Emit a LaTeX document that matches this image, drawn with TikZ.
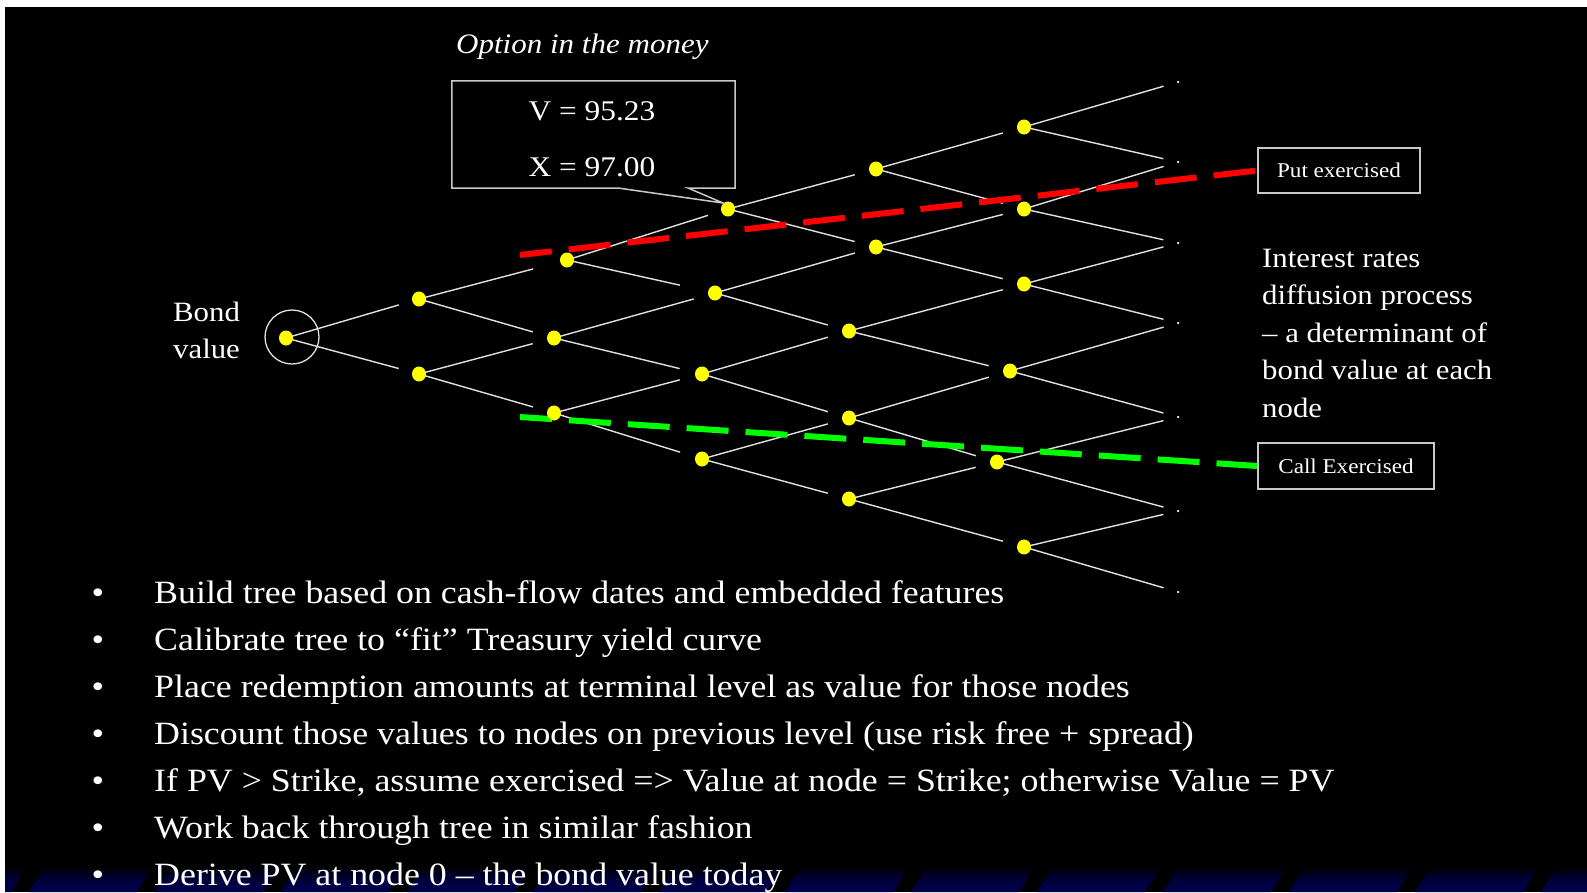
\documentclass[tikz,border=0pt]{standalone}
\usepackage{fontspec}
\usetikzlibrary{shapes.geometric}
\setmainfont{Liberation Serif}[FakeStretch=1.1]
\newfontfamily\bulletfont{Liberation Serif}[FakeStretch=1.103]
\definecolor{treeline}{RGB}{225,225,225}
\definecolor{dotyellow}{RGB}{255,255,0}
\definecolor{navyband}{RGB}{0,0,80}
\definecolor{boxline}{RGB}{200,200,200}
\definecolor{putred}{RGB}{255,0,0}
\definecolor{callgreen}{RGB}{0,255,0}
\begin{document}
\begin{tikzpicture}[x=1pt,y=-1pt,
  dot/.style={ellipse,fill=dotyellow,inner sep=0pt,minimum width=14pt,minimum height=15pt},
  tdot/.style={circle,fill=white,inner sep=0pt,minimum size=2.5pt},
  tline/.style={draw=treeline,line width=1.4pt},
  exline/.style={line width=6pt,dash pattern=on 42pt off 17pt,dash phase=10pt},
  lbox/.style={draw=boxline,line width=1.6pt,fill=black,text=white,inner sep=0pt,font=\fontsize{21}{24}\selectfont},
  wtext/.style={text=white,inner sep=0pt,anchor=base west},
  bul/.style={text=white,inner sep=0pt,anchor=base,font=\bulletfont\fontsize{32.5}{36}\selectfont},
  btext/.style={text=white,inner sep=0pt,anchor=base west,font=\bulletfont\fontsize{32.5}{36}\selectfont},
  rtext/.style={text=white,inner sep=0pt,anchor=base west,font=\fontsize{28}{32}\selectfont},
]
\useasboundingbox (0,0) rectangle (1587,892);
\fill[white] (0,0) rectangle (1587,892);
\fill[black] (5,7) rectangle (1587,892);
% bottom band
\begin{scope}
\clip (5,7) rectangle (1587,892);
\foreach \k in {-1,...,12} {
  \shade[top color=black,bottom color=navyband,middle color=navyband!70!black]
    ({45+126*\k},866) -- ({153+126*\k},866) -- ({137+126*\k},892) -- ({29+126*\k},892) -- cycle;
}
\end{scope}

% tree coordinates
\coordinate (n00) at (286,338);
\coordinate (n10) at (419,299);
\coordinate (n11) at (419,374);
\coordinate (n20) at (567,260);
\coordinate (n21) at (554,338);
\coordinate (n22) at (554,413);
\coordinate (n30) at (728,209);
\coordinate (n31) at (715,293);
\coordinate (n32) at (702,374);
\coordinate (n33) at (702,459);
\coordinate (n40) at (876,169);
\coordinate (n41) at (876,247);
\coordinate (n42) at (849,331);
\coordinate (n43) at (849,418);
\coordinate (n44) at (849,499);
\coordinate (n50) at (1024,127);
\coordinate (n51) at (1024,209);
\coordinate (n52) at (1024,284);
\coordinate (n53) at (1010,371);
\coordinate (n54) at (997,462);
\coordinate (n55) at (1024,547);
\coordinate (t0) at (1178,82);
\coordinate (t1) at (1178,162);
\coordinate (t2) at (1178,243);
\coordinate (t3) at (1178,323);
\coordinate (t4) at (1178,417);
\coordinate (t5) at (1178,511);
\coordinate (t6) at (1178,592);

% tree lines
\foreach \a/\b/\s in {n00/n10/21, n00/n11/21,
  n10/n20/35, n10/n21/22, n11/n21/22, n11/n22/22,
  n20/n30/21, n20/n31/36, n21/n31/22, n21/n32/23, n22/n32/23, n22/n33/23,
  n30/n40/22, n30/n41/22, n31/n41/22, n31/n42/22, n32/n42/22, n32/n43/22, n33/n43/22, n33/n44/22,
  n40/n50/22, n40/n51/22, n41/n51/22, n41/n52/22, n42/n52/22, n42/n53/22, n43/n53/22, n43/n54/22, n44/n54/22, n44/n55/22,
  n50/t0/15, n50/t1/15, n51/t1/15, n51/t2/15, n52/t2/15, n52/t3/15, n53/t3/15, n53/t4/15, n54/t4/15, n54/t5/15, n55/t5/15, n55/t6/15} {
  \draw[tline, shorten >=\s pt] (\a) -- (\b);
}

% root circle
\node[draw=treeline,line width=1.3pt,circle,minimum size=54pt,inner sep=0pt] (root) at (292,337) {};

% labels boxes
\node[lbox,minimum width=162pt,minimum height=45pt] (put) at (1339,170.5) {Put exercised};
\node[lbox,minimum width=176pt,minimum height=46pt] (call) at (1346,466) {Call Exercised};

% exercise boundaries
\coordinate (rs) at (520,255);
\coordinate (gs) at (520,417);
\draw[exline,draw=putred] (rs) -- (put.west);
\draw[exline,draw=callgreen] (gs) -- (call.west);

% dots
\foreach \n in {n00,n10,n11,n20,n21,n22,n30,n31,n32,n33,n40,n41,n42,n43,n44,n50,n51,n52,n53,n54,n55} {
  \node[dot] at (\n) {};
}
\foreach \n in {t0,t1,t2,t3,t4,t5,t6} {
  \node[tdot] at (\n) {};
}

% callout
\node[inner sep=0pt,minimum width=283pt,minimum height=107pt] (vx) at (593.5,134.5) {};
\coordinate (tip) at (723,203);
\draw[draw=boxline,line width=1.5pt] (618,188) -- (vx.south west) -- (vx.north west) -- (vx.north east) -- (vx.south east) -- (688,188) -- (tip) -- (618,188);
\node[text=white,inner sep=0pt,anchor=base,font=\fontsize{28.5}{32}\selectfont] (vv) at (592,120) {V = 95.23};
\node[text=white,inner sep=0pt,anchor=base,font=\fontsize{28.5}{32}\selectfont] (xx) at (592,176) {X = 97.00};

\node[wtext,font=\itshape\fontsize{28.2}{30}\selectfont] (opt) at (456,53) {Option in the money};

\node[rtext] (bond1) at (173,321) {Bond};
\node[rtext] (bond2) at (173,358) {value};

\node[rtext] (ir1) at (1262,267) {Interest rates};
\node[rtext] (ir2) at (1262,304.5) {diffusion process};
\node[rtext] (ir3) at (1262,342) {– a determinant of};
\node[rtext] (ir4) at (1262,379.5) {bond value at each};
\node[rtext] (ir5) at (1262,417) {node};

% bullets
\foreach \t [count=\i from 0] in {
  {Build tree based on cash-flow dates and embedded features},
  {Calibrate tree to “fit” Treasury yield curve},
  {Place redemption amounts at terminal level as value for those nodes},
  {Discount those values to nodes on previous level (use risk free + spread)},
  {If PV > Strike, assume exercised => Value at node = Strike; otherwise Value = PV},
  {Work back through tree in similar fashion},
  {Derive PV at node 0 – the bond value today}} {
  \node[bul] (b\i) at (98,{603+47*\i}) {•};
  \node[btext] (bt\i) at (154,{603+47*\i}) {\t};
}
\end{tikzpicture}
\end{document}
